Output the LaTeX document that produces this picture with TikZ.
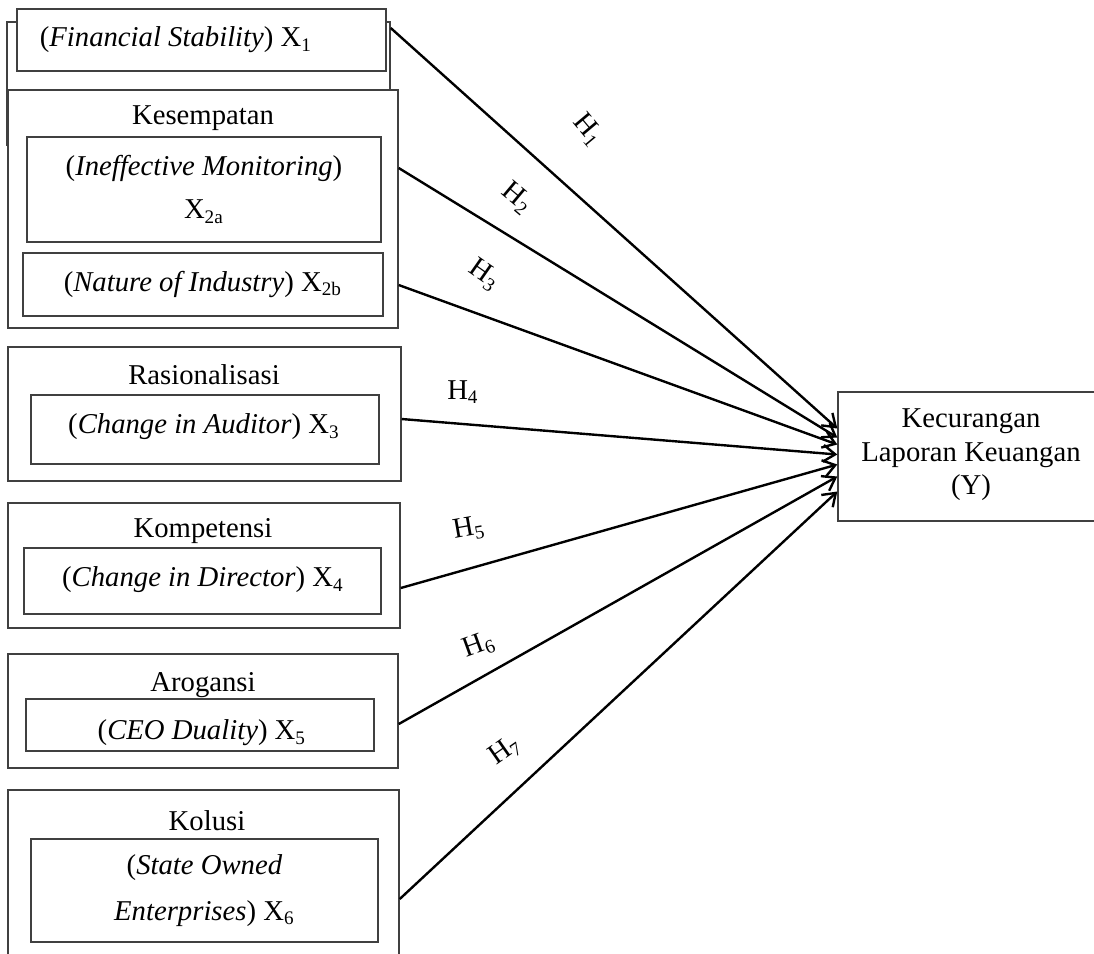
\documentclass[tikz,border=0pt]{standalone}
\usepackage{fontspec}
\setmainfont{Liberation Serif}
\usetikzlibrary{arrows.meta,calc,fit}

\tikzset{
  kotak/.style={draw=black!75,line width=0.6pt,inner sep=0pt,fill=white},
  teks/.style={font=\fontsize{12}{14}\selectfont,inner sep=1pt},
  hip/.style={font=\fontsize{12}{14}\selectfont,inner sep=0pt},
  panah/.style={line width=1pt,-{Straight Barb[length=5pt,width=7pt,line width=1pt]}},
}

\begin{document}
\begin{tikzpicture}[x=0.418pt,y=-0.418pt]
\useasboundingbox (0,0) rectangle (1094,953);
\clip (0,0) rectangle (1094,953);

% tekanan
\node[kotak,fit={(7,22) (390,145)}] (tek) {};
\node[kotak,fit={(17,9) (386,71)}] (fs) {};
\node[teks] at (176,40) {(\textit{Financial Stability}) X\textsubscript{1}};

% kesempatan
\node[kotak,fit={(8,90) (398,328)}] (kes) {};
\node[teks] at (203,118) {Kesempatan};
\node[kotak,fit={(27,137) (381,242)}] (im) {};
\node[teks,align=center] at (im.center) {(\textit{Ineffective Monitoring})\\[4pt] X\textsubscript{2a}};
\node[kotak,fit={(23,253) (383,316)}] (ni) {};
\node[teks] at (203,284) {(\textit{Nature of Industry}) X\textsubscript{2b}};

% rasionalisasi
\node[kotak,fit={(8,347) (401,481)}] (ras) {};
\node[teks] at (204,375) {Rasionalisasi};
\node[kotak,fit={(31,395) (379,464)}] (ca) {};
\node[teks] at (204,427) {(\textit{Change in Auditor}) X\textsubscript{3}};

% kompetensi
\node[kotak,fit={(8,503) (400,628)}] (kom) {};
\node[teks] at (203,531) {Kompetensi};
\node[kotak,fit={(24,548) (381,614)}] (cd) {};
\node[teks] at (203,580) {(\textit{Change in Director}) X\textsubscript{4}};

% arogansi
\node[kotak,fit={(8,654) (398,768)}] (aro) {};
\node[teks] at (203,685) {Arogansi};
\node[kotak,fit={(26,699) (374,751)}] (ceo) {};
\node[teks] at (202,733) {(\textit{CEO Duality}) X\textsubscript{5}};

% kolusi
\node[kotak,fit={(8,790) (399,970)}] (kol) {};
\node[teks] at (207,821) {Kolusi};
\node[kotak,fit={(31,839) (378,942)}] (soe) {};
\node[teks,align=center] at (soe.center) {(\textit{State Owned}\\[5pt] \textit{Enterprises}) X\textsubscript{6}};

% variabel dependen
\node[kotak,fit={(838,392) (1104,521)}] (Y) {};
\node[teks,align=center] at (971,455) {Kecurangan\\Laporan Keuangan\\(Y)};

% hipotesis
\draw[panah] (tek.east |- 0,28) -- ($(Y.west)+(0,-28)$);
\draw[panah] (kes.east |- 0,168) -- ($(Y.west)+(0,-19)$);
\draw[panah] (kes.east |- 0,285) -- ($(Y.west)+(0,-12)$);
\draw[panah] (ras.east |- 0,419) -- ($(Y.west)+(0,-2)$);
\draw[panah] (kom.east |- 0,588) -- ($(Y.west)+(0,8)$);
\draw[panah] (aro.east |- 0,724) -- ($(Y.west)+(0,20)$);
\draw[panah] (kol.east |- 0,899) -- ($(Y.west)+(0,35)$);

\node[hip,rotate=-50] at (588,130) {H\textsubscript{1}};
\node[hip,rotate=-40] at (517,198) {H\textsubscript{2}};
\node[hip,rotate=-35] at (484,275) {H\textsubscript{3}};
\node[hip] at (463,392) {H\textsubscript{4}};
\node[hip,rotate=10] at (469,529) {H\textsubscript{5}};
\node[hip,rotate=20] at (479,645) {H\textsubscript{6}};
\node[hip,rotate=35] at (505,751) {H\textsubscript{7}};
\end{tikzpicture}
\end{document}
